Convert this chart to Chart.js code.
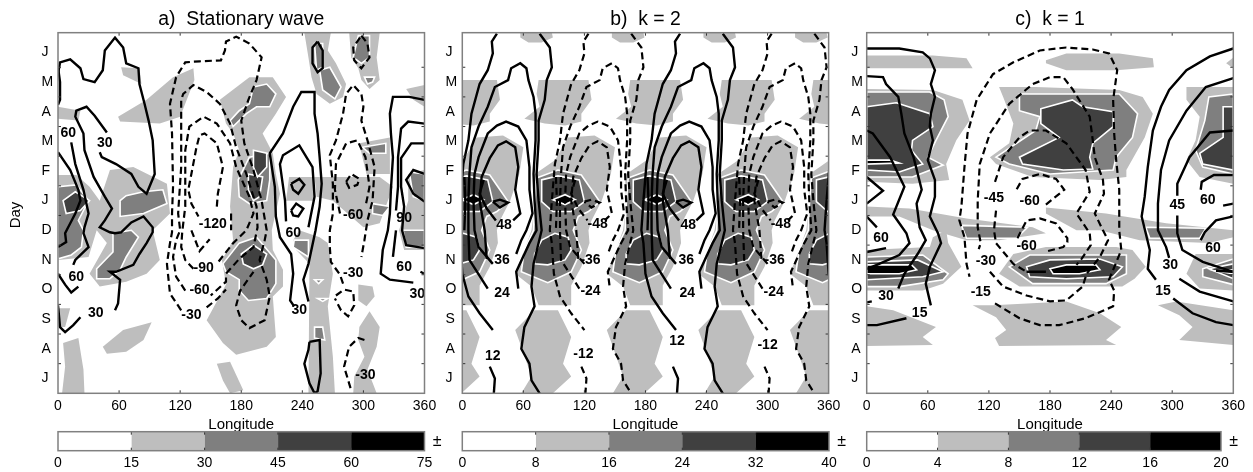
<!DOCTYPE html>
<html>
<head>
<meta charset="utf-8">
<script src="https://cdn.jsdelivr.net/npm/chart.js@4/dist/chart.umd.min.js"></script>
<style>
body { margin: 0; background: #fff; width: 1253px; height: 472px; overflow: hidden; }
canvas { position: absolute; }
</style>
</head>
<body>
<canvas id="panelA" style="left:0;top:0" width="441" height="434"></canvas>
<canvas id="panelB" style="left:432px;top:0" width="413" height="434"></canvas>
<canvas id="panelC" style="left:840px;top:0" width="413" height="434"></canvas>
<canvas id="barA" style="left:38px;top:425px" width="410" height="47"></canvas>
<canvas id="barB" style="left:442px;top:425px" width="410" height="47"></canvas>
<canvas id="barC" style="left:847px;top:425px" width="400" height="47"></canvas>
<script>
// axis values
const monthNames = ['J', 'A', 'S', 'O', 'N', 'D', 'J', 'F', 'M', 'A', 'M', 'J'];
const monthCentres = [15, 45, 75, 105, 135, 165, 195, 225, 255, 285, 315, 345];
const dayTicks = [30, 60, 90, 120, 150, 180, 210, 240, 270, 300, 330];
const lonTicks = [60, 120, 180, 240, 300];
const shadeColors = ['#ffffff', '#bebebe', '#7f7f7f', '#404040', '#000000'];
const barStepA = [15, 15, 15, 15, 15];
const barStepB = [8, 8, 8, 8, 8];
const barStepC = [4, 4, 4, 4, 4];

// a) shaded amplitude, [longitude, day]
const aLevel1 = [
    [[62,330],[80,329],[82,313],[64,322]],
    [[0,290],[22,286],[20,276],[0,278]],
    [[59,280],[87,297],[113,320],[133,329],[134,317],[120,280],[100,273],[61,275]],
    [[0,221],[18,221],[31,209],[41,195],[51,226],[74,229],[107,212],[110,182],[93,165],[100,135],[87,121],[67,113],[41,108],[31,121],[48,152],[38,165],[30,138],[0,135]],
    [[159,297],[188,320],[211,320],[224,300],[214,283],[201,263],[211,243],[214,222],[218,202],[210,165],[211,145],[221,125],[221,108],[211,98],[214,57],[205,47],[175,39],[162,51],[146,74],[165,110],[161,135],[172,155],[169,189],[172,229],[178,246],[172,263],[165,273]],
    [[252,219],[316,219],[329,209],[316,172],[300,168],[270,195],[254,199]],
    [[227,219],[252,219],[252,195],[224,195]],
    [[231,155],[237,165],[257,158],[265,152],[270,121],[265,88],[270,37],[272,0],[246,0],[247,131],[234,145]],
    [[242,365],[268,365],[265,347],[273,334],[283,313],[280,300],[267,293],[254,303],[249,320],[246,340]],
    [[286,365],[316,365],[313,340],[316,317],[306,308],[298,317],[295,329],[288,340]],
    [[342,308],[360,312],[360,290],[349,297]],
    [[296,253],[326,259],[326,222],[303,222],[299,239]],
    [[344,222],[360,226],[360,145],[340,145],[335,165],[344,195]],
    [[295,110],[309,108],[311,98],[303,88],[295,94]],
    [[296,67],[306,83],[316,67],[313,47],[304,24],[313,0],[290,0],[291,17],[301,37],[295,54]],
    [[44,47],[64,64],[92,72],[84,54],[67,42],[48,40]],
    [[5,51],[20,56],[25,24],[26,0],[4,0],[7,27]],
    [[0,86],[12,86],[7,67],[0,67]],
    [[156,30],[169,32],[182,3],[169,0],[162,13]]
];
const aLevel2 = [
    [[61,195],[67,200],[84,204],[103,206],[107,192],[84,182],[61,179]],
    [[0,209],[18,211],[30,195],[20,175],[25,165],[23,148],[13,140],[0,136]],
    [[38,126],[54,143],[54,162],[72,165],[79,158],[67,138],[61,125],[51,116],[38,116]],
    [[192,310],[205,313],[214,303],[208,290],[195,290],[185,283],[172,270],[169,276],[178,286],[188,293]],
    [[177,216],[188,239],[208,243],[208,216],[205,195],[188,192],[178,199]],
    [[162,131],[178,152],[195,158],[214,135],[214,111],[205,96],[187,94],[178,104],[178,115],[165,123]],
    [[257,327],[267,330],[278,310],[272,298],[260,307]],
    [[295,362],[306,362],[306,340],[298,334],[290,340]],
    [[301,320],[311,320],[309,315],[304,313]],
    [[252,354],[260,354],[260,330],[254,327]],
    [[309,192],[326,189],[319,180],[309,182]],
    [[339,165],[360,165],[360,148],[342,148]],
    [[345,224],[360,222],[360,195],[349,199]],
    [[232,155],[246,155],[246,138],[231,148]],
    [[299,249],[322,253],[322,243],[306,243]],
    [[252,67],[260,67],[262,54],[252,56]],
    [[252,115],[260,115],[256,111]],
    [[255,96],[265,96],[260,93]]
];
const aLevel3 = [
    [[5,195],[17,204],[31,195],[22,185],[8,182]],
    [[192,246],[205,243],[205,229],[196,219],[192,229]],
    [[187,222],[201,219],[198,199],[192,195],[187,206]],
    [[180,141],[192,150],[205,141],[201,130],[192,126],[182,131]]
];

// a) contours
const aSolid = [
    [[0,323],[2,335],[12,338],[22,329],[25,318],[36,315],[44,327],[46,347],[56,360],[64,350],[67,334],[79,329],[80,313],[85,293],[89,276],[93,256],[95,222],[87,202],[79,209],[72,222],[57,232],[43,239],[41,244]],
    [[48,264],[36,281],[28,290],[18,286],[17,280],[25,263],[26,246],[35,219],[46,199],[53,187],[46,175],[41,168],[51,163],[56,162],[62,163],[72,173],[84,179],[93,168],[93,163],[87,152],[80,141],[74,130],[57,123],[51,123],[61,115],[59,91],[56,84]],
    [[22,77],[15,69],[7,62],[2,67],[0,89]],
    [[0,330],[2,315],[2,297],[0,292]],
    [[13,254],[17,232],[25,206],[30,182],[26,168],[25,162],[30,148],[17,135],[15,130]],
    [[20,108],[13,102],[7,110],[0,121]],
    [[0,244],[12,226],[20,206],[22,195],[17,182],[10,168],[7,162],[8,153],[0,148]],
    [[232,88],[228,94],[231,121],[229,141],[218,158],[214,179],[213,209],[208,243],[221,263],[231,290],[239,305],[252,305],[252,283],[255,263],[257,239],[259,212],[257,189],[253,165],[246,131],[241,115],[246,93]],
    [[224,174],[223,195],[218,232],[221,241],[237,251],[250,229],[252,199],[246,168]],
    [[229,212],[237,217],[242,211],[236,202],[231,206],[229,212]],
    [[229,185],[234,192],[241,187],[236,179],[231,180],[229,185]],
    [[247,52],[257,54],[258,20],[255,2],[252,0],[247,10],[242,30],[246,44],[247,52]],
    [[255,356],[260,347],[260,329],[255,325],[250,334],[250,350],[255,356]],
    [[360,297],[345,300],[329,300],[326,283],[327,263],[329,239],[327,206],[326,182],[324,165],[319,145],[317,121],[326,115],[349,112]],
    [[360,273],[344,275],[337,268],[334,239],[334,209],[332,185]],
    [[332,165],[329,138]],
    [[356,123],[360,121]],
    [[360,253],[347,253],[337,238],[337,209],[340,189],[338,165],[342,150],[360,147]],
    [[360,222],[349,226],[342,216],[349,202],[360,194]]
];
const aDashed = [
    [[121,84],[110,101],[107,131],[110,152],[112,163],[112,182],[113,209],[112,263],[110,293],[116,320],[125,335],[139,336],[160,337],[164,347],[165,356],[175,361],[188,354],[200,340],[195,317],[187,297],[180,276],[183,253],[192,226],[200,195],[205,165],[203,155],[198,135],[205,115],[208,98],[203,74],[188,66],[180,74],[175,89],[179,104],[192,123]],
    [[146,87],[157,96],[165,105]],
    [[125,104],[116,118],[113,138],[116,155],[120,165],[118,182],[121,229],[121,297],[123,303],[133,312],[146,305],[159,293],[169,273],[175,249],[185,222],[195,189],[196,168],[192,148],[178,136],[165,121],[165,113],[150,99]],
    [[133,126],[125,135],[121,148],[122,163],[125,189],[125,229],[125,246],[129,270],[143,280],[156,273],[169,253],[175,229],[188,199],[192,182],[185,165],[172,152],[156,131]],
    [[156,189],[157,202],[162,229],[156,253],[144,263],[139,261],[136,249],[131,222],[128,206],[131,192],[138,179]],
    [[131,165],[139,144],[149,156]],
    [[170,182],[170,165]],
    [[280,111],[277,120],[268,133],[267,148],[267,165],[270,182],[270,212],[267,241],[273,256],[280,283],[283,303],[290,312],[298,303],[300,290],[298,276],[304,256],[311,229],[309,195],[304,175],[301,155],[298,138]],
    [[277,182],[272,206],[273,232],[283,253],[294,256],[302,239],[306,209],[302,189]],
    [[283,214],[288,222],[296,217],[294,211],[286,208],[283,214]],
    [[273,99],[281,105],[290,103],[291,89],[285,78],[278,84],[272,96]],
    [[301,54],[295,56],[286,47],[281,27],[288,3]],
    [[298,362],[304,354],[306,340],[298,329],[291,337],[290,350],[298,362]]
];
const aLabels = [
    [10,263,'60'],[46,253,'30'],[152,171,'-120'],[231,162,'60'],[290,180,'-60'],[340,177,'90'],
    [18,118,'60'],[37,81,'30'],[143,127,'-90'],[139,104,'-60'],[131,79,'-30'],[237,84,'30'],
    [290,122,'-30'],[340,128,'60'],[353,100,'30'],[302,18,'-30']
];

// b) the shading repeats every 90 degrees: one period
const bLevel1 = [
    [[57,365],[88,365],[89,360],[78,355],[65,355],[57,360]],
    [[75,317],[124,317],[127,297],[117,283],[117,275],[101,271],[81,273],[61,278],[76,290],[73,303]],
    [[70,221],[91,236],[104,259],[130,261],[150,249],[146,222],[137,195],[127,175],[124,165],[125,152],[117,128],[107,109],[107,89],[75,89],[68,108],[52,121],[61,145],[68,165],[71,189]],
    [[52,64],[71,84],[94,84],[107,57],[99,30],[107,17],[89,0],[58,0],[68,17],[58,47]]
];
const bLevel2 = [
    [[73,218],[94,226],[117,221],[127,206],[135,194],[124,184],[114,179],[109,165],[117,145],[107,123],[84,112],[58,123],[61,145],[70,165],[71,189]]
];
const bLevel3 = [
    [[78,216],[94,220],[115,216],[120,194],[107,184],[89,184],[78,194]],
    [[71,141],[78,155],[91,162],[104,158],[107,145],[101,135],[84,130],[71,131]]
];
const bLevel4 = [
    [[89,196],[101,201],[111,196],[101,191]]
];

// b) one 180 degree period of the contours; negative lobes are dashed, half a period on
const bSolid = [
    [[34,364],[29,356],[30,344],[25,327],[17,313],[9,283],[6,256],[1,232],[-2,195],[-4,165],[-2,152],[0,121],[6,98],[17,81],[30,64]],
    [[27,27],[32,15],[31,0]],
    [[76,364],[86,350],[88,330],[83,317],[81,297],[75,276],[75,256],[73,222],[75,195],[78,165],[70,131],[68,108],[71,88],[61,67],[58,45],[66,30],[68,13],[76,0]],
    [[25,106],[7,135],[6,165],[6,195],[7,222],[9,249],[16,270],[25,290],[32,310],[45,317],[48,329],[57,334],[63,329],[65,317],[70,300],[72,283],[72,256],[70,222],[71,195],[73,165],[66,152],[53,123],[55,106]],
    [[30,131],[16,148],[12,165],[11,195],[12,222],[16,239],[25,263],[34,271],[43,275],[55,270],[63,256],[66,229],[66,206],[69,182],[63,165],[58,155],[53,141]],
    [[24,136],[22,165],[17,195],[19,219],[27,238],[35,251],[43,255],[52,249],[55,229],[52,206],[57,182],[50,175]],
    [[21,216],[17,202],[24,187],[33,175]],
    [[2,219],[3,195],[2,165]],
    [[30,194],[37,196],[45,193],[37,188],[30,194]]
];
const bLabels = [
    [41,170,'48'],[133,171,'-48'],[222,170,'48'],[313,171,'-48'],
    [39,135,'36'],[126,135,'-36'],[220,135,'36'],[307,135,'-36'],
    [39,101,'24'],[126,103,'-24'],[221,101,'24'],[306,102,'-24'],
    [30,38,'12'],[119,40,'-12'],[211,53,'12'],[300,49,'-12']
];

// c) shaded amplitude
const cLevel1 = [
    [[0,342],[65,342],[98,339],[104,329],[75,329],[0,329]],
    [[176,337],[196,344],[248,344],[281,339],[282,330],[245,327],[196,327],[176,334]],
    [[353,334],[360,340],[360,329]],
    [[0,308],[65,307],[94,297],[101,276],[88,256],[78,232],[81,216],[45,212],[0,214]],
    [[130,310],[166,310],[248,307],[271,300],[281,283],[273,259],[255,226],[255,219],[229,216],[163,219],[127,232],[121,239],[140,253],[144,273],[134,300]],
    [[314,310],[360,310],[360,212],[327,219],[314,236],[323,256],[327,280],[314,297]],
    [[0,189],[42,187],[98,177],[163,168],[176,162],[130,155],[98,155],[65,165],[32,179],[0,179]],
    [[176,188],[235,182],[294,172],[360,165],[360,158],[336,152],[268,155],[229,165],[206,165],[176,182]],
    [[0,145],[62,148],[65,158],[78,165],[80,152],[93,128],[75,111],[55,104],[0,104]],
    [[130,121],[144,141],[176,148],[245,148],[261,145],[274,128],[263,116],[251,108],[196,108],[150,108]],
    [[314,121],[323,141],[360,141],[360,104],[327,106]],
    [[0,88],[26,84],[68,67],[55,57],[65,49],[0,48]],
    [[104,89],[124,89],[196,93],[229,81],[250,67],[235,54],[245,49],[130,48],[126,56],[137,64],[127,77]],
    [[286,89],[304,93],[360,84],[360,49],[307,54],[320,67],[307,79]]
];
const cLevel2 = [
    [[0,305],[62,305],[76,297],[80,280],[68,256],[60,239],[75,231],[45,219],[0,219]],
    [[150,303],[248,303],[266,283],[261,259],[245,239],[242,226],[180,222],[140,232],[127,239],[166,266],[170,280],[150,286]],
    [[360,303],[336,300],[332,276],[323,246],[330,229],[360,222]],
    [[93,170],[158,168],[147,157],[98,157]],
    [[274,168],[333,167],[327,157],[278,157]],
    [[0,138],[55,140],[80,121],[75,115],[32,108],[0,108]],
    [[140,128],[160,140],[255,140],[255,121],[235,111],[163,111]],
    [[360,136],[330,126],[330,118],[360,110]],
    [[171,236],[189,239],[212,232],[189,230]],
    [[360,239],[352,234],[360,231]]
];
const cLevel3 = [
    [[0,290],[29,294],[62,283],[65,270],[45,256],[44,246],[55,232],[32,224],[0,226]],
    [[171,288],[202,297],[212,290],[242,285],[242,270],[222,253],[219,239],[222,227],[193,226],[153,232],[150,239],[189,259],[171,273]],
    [[360,290],[350,290],[350,259],[327,243],[330,232],[360,226]],
    [[0,133],[50,135],[75,123],[55,118],[0,115]],
    [[157,128],[180,135],[229,136],[251,128],[242,118],[196,116],[160,118]],
    [[360,131],[336,126],[360,116]]
];
const cLevel4 = [
    [[0,130],[44,130],[49,125],[32,121],[0,121]],
    [[180,126],[196,130],[225,130],[229,125],[209,121],[183,121]],
    [[360,125],[343,124],[360,121]],
    [[0,236],[23,236],[32,233],[0,232]]
];

// c) contours
const cSolid = [
    [[0,349],[32,349],[55,345],[62,339],[67,327],[63,313],[67,300],[63,283],[62,270],[65,256],[60,236],[67,216],[67,199],[62,179],[70,162],[73,152],[62,128],[58,111],[63,89]],
    [[39,76],[10,69],[0,69]],
    [[0,321],[16,320],[19,313],[31,300],[34,283],[37,263],[46,239],[54,206],[49,192],[52,168],[58,155],[50,141],[37,121],[31,106]],
    [[5,93],[0,92]],
    [[0,266],[6,263],[23,239],[37,209],[26,181],[39,162],[42,152],[32,140],[10,130],[0,126]],
    [[0,219],[16,205],[0,192]],
    [[0,179],[10,168]],
    [[0,143],[19,147]],
    [[360,349],[337,341],[314,327],[297,307],[289,290],[281,266],[276,229],[273,199],[270,179],[274,162],[278,145],[276,126],[284,115]],
    [[301,96],[320,81],[343,72],[360,69]],
    [[360,319],[333,310],[314,286],[297,256],[289,226],[286,192],[286,165],[294,148],[297,137]],
    [[307,116],[327,103],[360,93]],
    [[360,266],[337,264],[317,239],[305,212],[305,200]],
    [[305,180],[305,162],[310,145],[330,133],[360,123]],
    [[360,221],[341,221],[329,214],[328,206]],
    [[350,190],[360,192]],
    [[360,179],[343,175],[332,163],[328,155]],
    [[157,123],[176,123]],
    [[343,124],[360,123]]
];
const cDashed = [
    [[126,91],[150,76],[170,69],[189,69],[215,76],[242,88],[243,104],[238,115],[250,145],[248,165],[248,206],[245,236],[243,263],[242,297],[246,327],[238,344],[222,348],[196,350],[170,347],[144,335],[124,323],[108,297],[99,263],[96,229],[93,189],[91,175],[96,158],[98,131],[101,118]],
    [[121,123],[134,108],[157,99],[180,93],[196,94],[212,108],[216,121],[229,138],[237,155],[232,165],[224,182],[233,202],[232,216],[224,239],[222,256],[219,280],[202,308],[193,320],[180,320],[163,313],[140,293],[121,263],[111,232],[109,195],[109,168],[112,152],[110,146]],
    [[126,214],[134,239],[150,259],[160,266],[176,266],[196,253],[215,226],[219,204],[206,182],[219,162],[220,150],[211,136],[206,130]],
    [[127,185],[125,165],[127,152],[144,131],[157,123]],
    [[176,191],[194,206],[186,217],[170,222],[153,217],[147,206]],
    [[148,157],[157,175],[170,177],[186,172],[197,157],[197,153],[193,148],[178,144]]
];
const cLabels = [
    [335,195,'60'],[14,157,'60'],[125,198,'-45'],[160,194,'-60'],[157,149,'-60'],[117,134,'-30'],
    [112,102,'-15'],[19,98,'30'],[52,81,'15'],[305,190,'45'],[340,147,'60'],[298,130,'30'],[291,103,'15']
];

function shift(list, offset) {
    return list.map(line => line.map(p => [p[0] + offset, p[1]]));
}
function repeat(list, offsets) {
    return offsets.flatMap(o => shift(list, o));
}

const toPoints = line => line.map(p => ({ x: p[0], y: p[1] }));

// polygons are filled through the chart's scales, lines stay normal datasets
const shapesPlugin = {
    id: 'shapes',
    beforeDatasetDraw(chart, args) {
        const ds = chart.data.datasets[args.index];
        if (!ds.shade) return;
        const { ctx, chartArea, scales } = chart;
        ctx.save();
        ctx.beginPath();
        ctx.rect(chartArea.left, chartArea.top, chartArea.width, chartArea.height);
        ctx.clip();
        ctx.beginPath();
        ds.data.forEach((p, i) => {
            const px = scales.x.getPixelForValue(p.x);
            const py = scales.y.getPixelForValue(p.y);
            if (i === 0) ctx.moveTo(px, py);
            else ctx.lineTo(px, py);
        });
        ctx.closePath();
        ctx.fillStyle = ds.shade;
        ctx.fill();
        if (ds.edge) {
            ctx.strokeStyle = '#ffffff';
            ctx.lineWidth = 1.6;
            ctx.stroke();
        }
        ctx.restore();
    },
    afterDatasetsDraw(chart) {
        const { ctx, chartArea, scales } = chart;
        const opts = chart.options.plugins.shapes;
        ctx.save();
        ctx.font = 'bold 14px "Liberation Sans"';
        ctx.fillStyle = '#000';
        ctx.textAlign = 'center';
        ctx.textBaseline = 'middle';
        opts.labels.forEach(l => {
            ctx.fillText(l[2], scales.x.getPixelForValue(l[0]), scales.y.getPixelForValue(l[1]));
        });
        if (opts.dayTitle) {
            ctx.save();
            ctx.translate(16, (chartArea.top + chartArea.bottom) / 2 + 2);
            ctx.rotate(-Math.PI / 2);
            ctx.font = '15px "Liberation Sans"';
            ctx.fillText(opts.dayTitle, 0, 0);
            ctx.restore();
        }
        // frame and short inward ticks
        ctx.strokeStyle = '#333';
        ctx.lineWidth = 1;
        ctx.beginPath();
        lonTicks.forEach(v => {
            const px = scales.x.getPixelForValue(v);
            ctx.moveTo(px, chartArea.top);
            ctx.lineTo(px, chartArea.top + 3);
            ctx.moveTo(px, chartArea.bottom);
            ctx.lineTo(px, chartArea.bottom - 3);
        });
        dayTicks.forEach(v => {
            const py = scales.y.getPixelForValue(v);
            ctx.moveTo(chartArea.left, py);
            ctx.lineTo(chartArea.left + 3, py);
            ctx.moveTo(chartArea.right, py);
            ctx.lineTo(chartArea.right - 3, py);
        });
        ctx.stroke();
        ctx.strokeStyle = '#808080';
        ctx.lineWidth = 1.5;
        ctx.strokeRect(chartArea.left, chartArea.top, chartArea.width, chartArea.height);
        ctx.restore();
    }
};

function createPanel(id, title, leftPad, yWidth, rightPad, dayTitle, levels, solid, dashed, labels) {
    const datasets = [];
    levels.forEach((polys, i) => {
        polys.forEach(poly => {
            datasets.push({
                data: toPoints(poly), shade: shadeColors[i + 1], edge: i > 0,
                pointRadius: 0, showLine: false, order: 40 - i
            });
        });
    });
    solid.forEach(line => {
        datasets.push({
            data: toPoints(line), borderColor: '#000', borderWidth: 2.4,
            pointRadius: 0, showLine: true, tension: 0, order: 1
        });
    });
    dashed.forEach(line => {
        datasets.push({
            data: toPoints(line), borderColor: '#000', borderWidth: 2.2, borderDash: [7, 4],
            pointRadius: 0, showLine: true, tension: 0, order: 1
        });
    });
    new Chart(document.getElementById(id), {
        type: 'scatter',
        data: { datasets: datasets },
        plugins: [shapesPlugin],
        options: {
            responsive: false,
            animation: false,
            events: [],
            layout: { padding: { left: leftPad, right: rightPad } },
            plugins: {
                legend: { display: false },
                tooltip: { enabled: false },
                shapes: { labels: labels, dayTitle: dayTitle },
                title: {
                    display: true, text: title, fullSize: false, color: '#000',
                    font: { family: 'Liberation Sans', size: 19.4, weight: 'normal' },
                    padding: { top: 8.5, bottom: 0.9 }
                }
            },
            scales: {
                x: {
                    type: 'linear', min: 0, max: 360,
                    afterBuildTicks: s => { s.ticks = [0].concat(lonTicks, [360]).map(v => ({ value: v })); },
                    afterFit: s => { s.height = 40.7; },
                    grid: { display: false, drawTicks: false },
                    border: { display: false },
                    ticks: {
                        color: '#000', padding: 4.7, maxRotation: 0, autoSkip: false,
                        font: { family: 'Liberation Sans', size: 14 }
                    },
                    title: {
                        display: true, text: 'Longitude', color: '#000', padding: 0,
                        font: { family: 'Liberation Sans', size: 15 }
                    }
                },
                y: {
                    type: 'linear', min: 0, max: 365,
                    afterBuildTicks: s => { s.ticks = monthCentres.map(v => ({ value: v })); },
                    afterFit: s => { s.width = yWidth; },
                    grid: { display: false, drawTicks: false },
                    border: { display: false },
                    ticks: {
                        color: '#000', padding: 4, autoSkip: false, crossAlign: 'far',
                        font: { family: 'Liberation Sans', size: 14 },
                        callback: (v, i) => monthNames[i]
                    }
                }
            }
        }
    });
}

function createBar(id, steps, leftPad, rightPad) {
    const total = steps.reduce((a, b) => a + b, 0);
    const barPlugin = {
        id: 'barFrame',
        afterDatasetsDraw(chart) {
            const { ctx, chartArea, scales } = chart;
            ctx.save();
            ctx.strokeStyle = '#333';
            ctx.lineWidth = 1;
            ctx.beginPath();
            let sum = 0;
            steps.slice(0, -1).forEach(s => {
                sum += s;
                const px = scales.x.getPixelForValue(sum);
                ctx.moveTo(px, chartArea.top);
                ctx.lineTo(px, chartArea.top + 3);
                ctx.moveTo(px, chartArea.bottom);
                ctx.lineTo(px, chartArea.bottom - 3);
            });
            ctx.stroke();
            ctx.strokeStyle = '#808080';
            ctx.lineWidth = 1.5;
            ctx.strokeRect(chartArea.left, chartArea.top, chartArea.width, chartArea.height);
            ctx.fillStyle = '#000';
            ctx.font = '16px "Liberation Sans"';
            ctx.textAlign = 'center';
            ctx.textBaseline = 'middle';
            ctx.fillText('±', chartArea.right + 12.7, (chartArea.top + chartArea.bottom) / 2);
            ctx.restore();
        }
    };
    new Chart(document.getElementById(id), {
        type: 'bar',
        data: {
            labels: [''],
            datasets: steps.map((s, i) => ({ data: [s], backgroundColor: shadeColors[i], borderWidth: 0 }))
        },
        plugins: [barPlugin],
        options: {
            indexAxis: 'y',
            responsive: false,
            animation: false,
            events: [],
            layout: { padding: { top: 6.7, left: leftPad, right: rightPad } },
            barPercentage: 1,
            categoryPercentage: 1,
            plugins: { legend: { display: false }, tooltip: { enabled: false } },
            scales: {
                x: {
                    type: 'linear', stacked: true, min: 0, max: total,
                    afterFit: s => { s.height = 21.3; },
                    grid: { display: false, drawTicks: false },
                    border: { display: false },
                    ticks: {
                        stepSize: steps[0], color: '#000', padding: 4, maxRotation: 0,
                        font: { family: 'Liberation Sans', size: 14 }
                    }
                },
                y: { stacked: true, display: false }
            }
        }
    });
}

const wavePeriods = [-90, 0, 90, 180, 270, 360];
createPanel('panelA', 'a)  Stationary wave', 41.5, 16.5, 16.5, 'Day',
    [aLevel1, aLevel2, aLevel3], aSolid, aDashed, aLabels);
createPanel('panelB', 'b)  k = 2', 13.5, 16.8, 16, '',
    [repeat(bLevel1, wavePeriods), repeat(bLevel2, wavePeriods), repeat(bLevel3, wavePeriods), repeat(bLevel4, wavePeriods)],
    repeat(bSolid, [0, 180, 360]), repeat(bSolid, [-90, 90, 270]), bLabels);
createPanel('panelC', 'c)  k = 1', 11.2, 15.5, 19.7, '',
    [cLevel1, cLevel2, cLevel3, cLevel4], cSolid, cDashed, cLabels);
createBar('barA', barStepA, 20, 23.5);
createBar('barB', barStepB, 20.3, 23);
createBar('barC', barStepC, 19.7, 26);
</script>
</body>
</html>
